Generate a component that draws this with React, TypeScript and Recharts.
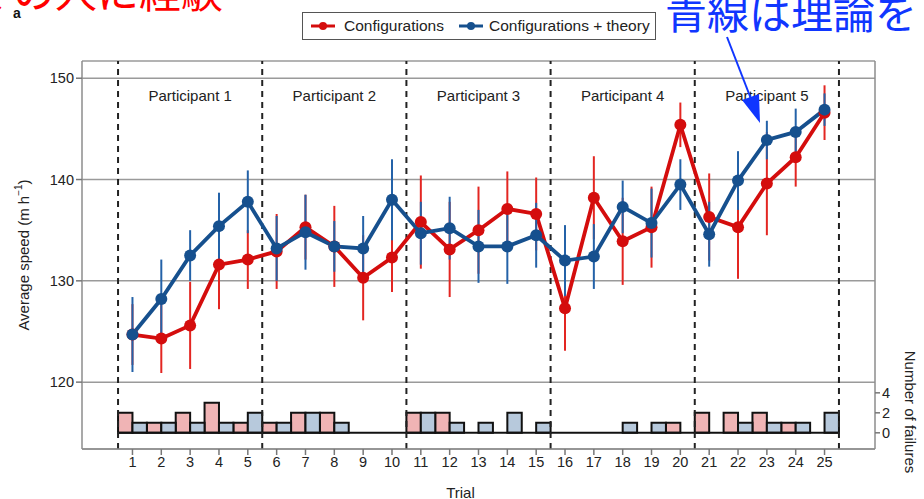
import React from 'react'
import {
  LineChart,
  Line,
  XAxis,
  YAxis,
  CartesianGrid,
  ErrorBar,
  ReferenceLine,
  ReferenceArea,
  ReferenceDot,
} from 'recharts'

// trial numbers 1..25
const trials = [1, 2, 3, 4, 5, 6, 7, 8, 9, 10, 11, 12, 13, 14, 15, 16, 17, 18, 19, 20, 21, 22, 23, 24, 25]

// average speed (m/h) + error, "Configurations"
const configMean = [124.7, 124.3, 125.6, 131.6, 132.1, 132.9, 135.3, 133.4, 130.3, 132.3, 135.8, 133.1, 135.0, 137.1, 136.6, 127.3, 138.2, 133.9, 135.3, 145.4, 136.3, 135.3, 139.6, 142.2, 146.6]
const configErr = [3.0, 3.4, 4.3, 4.4, 2.9, 3.7, 3.2, 4.0, 4.2, 3.4, 4.6, 4.7, 4.3, 3.7, 3.6, 4.2, 4.1, 4.3, 4.0, 2.2, 4.3, 5.1, 5.1, 2.9, 2.7]

// "Configurations + theory"
const theoryMean = [124.7, 128.2, 132.5, 135.4, 137.8, 133.2, 134.8, 133.4, 133.2, 138.0, 134.7, 135.2, 133.4, 133.4, 134.5, 132.0, 132.4, 137.3, 135.7, 139.5, 134.6, 139.9, 143.9, 144.7, 146.9]
const theoryErr = [3.7, 3.9, 2.5, 3.3, 3.1, 3.2, 3.7, 2.5, 3.2, 4.0, 3.1, 3.1, 3.6, 3.7, 3.2, 3.5, 3.2, 2.6, 3.4, 2.5, 3.2, 2.9, 1.9, 2.3, 1.6]

// number of failures per trial
const configFails = [2, 1, 2, 3, 1, 1, 2, 2, 0, 0, 2, 2, 0, 0, 0, 0, 0, 0, 0, 1, 2, 2, 2, 1, 0]
const theoryFails = [1, 1, 1, 1, 2, 1, 2, 1, 0, 0, 2, 1, 1, 2, 1, 0, 0, 1, 1, 0, 0, 1, 1, 1, 2]

const participants = ['Participant 1', 'Participant 2', 'Participant 3', 'Participant 4', 'Participant 5']
const blockBounds = [0.5, 5.5, 10.5, 15.5, 20.5, 25.5]

const speedTicks = [120, 130, 140, 150]
const failTicks = [0, 2, 4]

const RED = '#d40d0d'
const RED_ERR = '#e32622'
const BLUE = '#16508e'
const BLUE_ERR = '#2462a8'
const FONT = '"Liberation Sans", Arial, Helvetica, sans-serif'

const data = trials.map((t, i) => ({
  trial: t,
  config: configMean[i],
  configErr: configErr[i],
  theory: theoryMean[i],
  theoryErr: theoryErr[i],
}))

const SpeedLabel = ({ viewBox }: any) => {
  const cy = viewBox.y + viewBox.height / 2
  return (
    <text x={23} y={cy} transform={`rotate(-90 23 ${cy})`} textAnchor="middle" dominantBaseline="central" fontSize={15} fill="#222" fontFamily={FONT}>
      Average speed (m h<tspan dy={-5} fontSize={10}>−1</tspan><tspan dy={5}>)</tspan>
    </text>
  )
}

const FailLabel = () => (
  <text x={910} y={412} transform="rotate(90 910 412)" textAnchor="middle" dominantBaseline="central" fontSize={15} fill="#222" fontFamily={FONT}>
    Number of failures
  </text>
)

const TrialLabel = ({ viewBox }: any) => (
  <text x={viewBox.x + viewBox.width / 2 - 18} y={492} textAnchor="middle" dominantBaseline="central" fontSize={15} fill="#222" fontFamily={FONT}>
    Trial
  </text>
)

const LegendBox = () => (
  <div
    style={{
      position: 'absolute',
      left: 302,
      top: 12,
      width: 352,
      height: 26,
      border: '1px solid #555',
      display: 'flex',
      alignItems: 'center',
      fontFamily: FONT,
      fontSize: 15.5,
      color: '#222',
      background: '#fff',
      whiteSpace: 'nowrap',
    }}
  >
    {[
      { name: 'Configurations', color: RED },
      { name: 'Configurations + theory', color: BLUE },
    ].map((item, i) => (
      <div key={item.name} style={{ display: 'flex', alignItems: 'center', marginLeft: i === 0 ? 8 : 15 }}>
        <svg width={24} height={10}>
          <line x1={0} y1={5} x2={24} y2={5} stroke={item.color} strokeWidth={3} />
          <circle cx={12} cy={5} r={4} fill={item.color} />
        </svg>
        <span style={{ marginLeft: i === 0 ? 9 : 6 }}>{item.name}</span>
      </div>
    ))}
  </div>
)

const Annotations = () => (
  <svg width={924} height={499} style={{ position: 'absolute', left: 0, top: 0, pointerEvents: 'none' }}>
    <text x={-29} y={8} fontSize={42} fill="#ff0000" fontFamily='"Noto Sans CJK JP", sans-serif'>
      くの人に経験
    </text>
    <text x={13} y={18} fontSize={14} fontWeight="bold" fill="#111" fontFamily={FONT}>
      a
    </text>
    <text x={665} y={29} fontSize={42} fill="#1036ff" fontFamily='"Noto Sans CJK JP", sans-serif'>
      青線は理論を
    </text>
    <line x1={727} y1={37} x2={753} y2={104} stroke="#1036ff" strokeWidth={2} />
    <polygon points="742,100 759,94 760,123" fill="#1036ff" />
  </svg>
)

export default function App() {
  return (
    <div style={{ position: 'absolute', left: 0, top: 0, width: 924, height: 499, background: '#fff' }}>
      <LineChart width={924} height={499} data={data} margin={{ top: 61, right: 29, bottom: 20, left: 32 }}>
        <CartesianGrid vertical={false} stroke="#9a9a9a" strokeWidth={1.5} />
        <XAxis
          type="number"
          dataKey="trial"
          domain={[-0.75, 26.75]}
          ticks={trials}
          interval={0}
          allowDataOverflow
          height={30}
          tick={{ fontSize: 14.5, fill: '#222', fontFamily: FONT }}
          tickLine={{ stroke: '#777', strokeWidth: 1.5 }}
          tickSize={6}
          axisLine={{ stroke: '#8c8c8c', strokeWidth: 1.5 }}
          label={<TrialLabel />}
        />
        <YAxis
          domain={[113.4, 151.7]}
          ticks={speedTicks}
          interval={0}
          allowDataOverflow
          width={50}
          tick={{ fontSize: 14.5, fill: '#222', fontFamily: FONT }}
          tickLine={{ stroke: '#777', strokeWidth: 1.5 }}
          tickSize={6}
          axisLine={{ stroke: '#8c8c8c', strokeWidth: 1.5 }}
          label={<SpeedLabel />}
        />
        <YAxis
          yAxisId="fail"
          orientation="right"
          domain={[-1.62, 37.2]}
          ticks={failTicks}
          interval={0}
          allowDataOverflow
          width={20}
          tick={{ fontSize: 14.5, fill: '#222', fontFamily: FONT }}
          tickLine={{ stroke: '#777', strokeWidth: 1.5 }}
          tickSize={5}
          axisLine={{ stroke: '#8c8c8c', strokeWidth: 1.5 }}
          label={<FailLabel />}
        />

        {trials.map((t, i) =>
          configFails[i] > 0 ? (
            <ReferenceArea
              key={`cf${t}`}
              yAxisId="fail"
              x1={t - 0.5}
              x2={t}
              y1={0}
              y2={configFails[i]}
              fill="#f0b4b5"
              fillOpacity={1}
              stroke="#111"
              strokeWidth={2}
            />
          ) : null
        )}
        {trials.map((t, i) =>
          theoryFails[i] > 0 ? (
            <ReferenceArea
              key={`tf${t}`}
              yAxisId="fail"
              x1={t}
              x2={t + 0.5}
              y1={0}
              y2={theoryFails[i]}
              fill="#b7c9dc"
              fillOpacity={1}
              stroke="#111"
              strokeWidth={2}
            />
          ) : null
        )}
        <ReferenceLine
          yAxisId="fail"
          segment={[
            { x: blockBounds[0], y: 0 },
            { x: blockBounds[blockBounds.length - 1], y: 0 },
          ]}
          stroke="#111"
          strokeWidth={2}
        />

        {blockBounds.map((b) => (
          <ReferenceLine key={`b${b}`} x={b} stroke="#222" strokeWidth={2} strokeDasharray="6 5" />
        ))}

        {participants.map((p, i) => (
          <ReferenceDot
            key={p}
            x={(blockBounds[i] + blockBounds[i + 1]) / 2}
            y={148.3}
            r={1}
            fillOpacity={0}
            strokeOpacity={0}
            label={{ value: p, position: 'center', fontSize: 15, fill: '#222', fontFamily: FONT }}
          />
        ))}

        <Line
          dataKey="config"
          stroke={RED}
          strokeWidth={3.8}
          dot={{ r: 6, fill: RED, stroke: RED, strokeWidth: 0 }}
          activeDot={false}
          isAnimationActive={false}
        >
          <ErrorBar dataKey="configErr" direction="y" width={0} stroke={RED_ERR} strokeWidth={2} isAnimationActive={false} />
        </Line>
        <Line
          dataKey="theory"
          stroke={BLUE}
          strokeWidth={3.8}
          dot={{ r: 6, fill: BLUE, stroke: BLUE, strokeWidth: 0 }}
          activeDot={false}
          isAnimationActive={false}
        >
          <ErrorBar dataKey="theoryErr" direction="y" width={0} stroke={BLUE_ERR} strokeWidth={2} isAnimationActive={false} />
        </Line>
      </LineChart>
      <LegendBox />
      <Annotations />
    </div>
  )
}
